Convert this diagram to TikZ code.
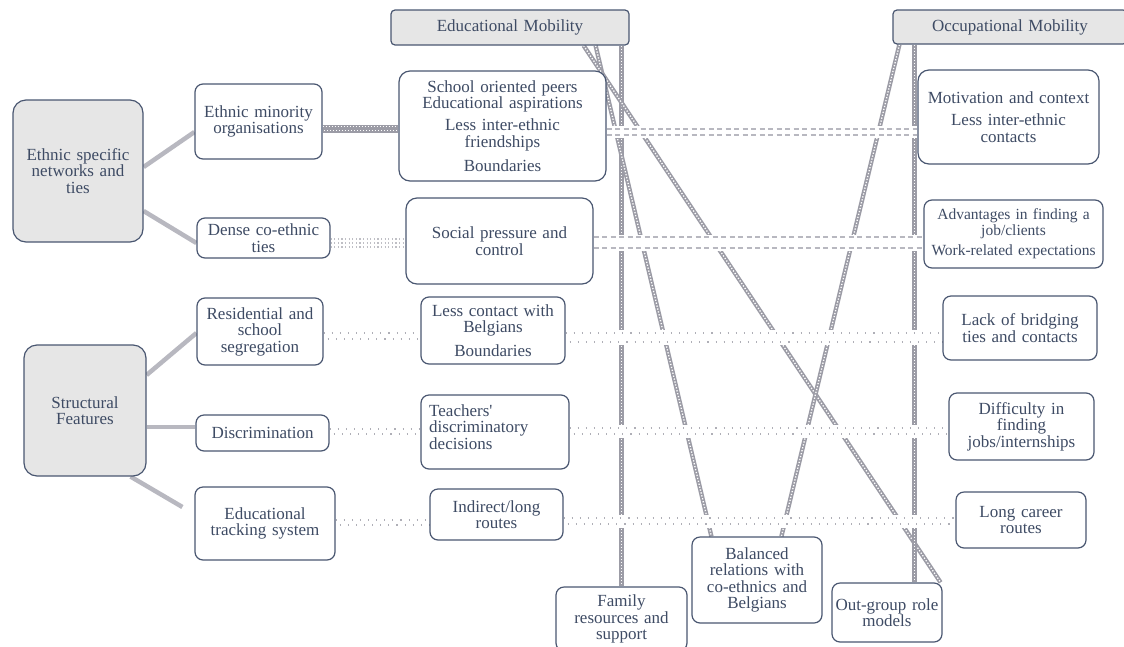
\documentclass[tikz,border=0pt]{standalone}
\usepackage{fontspec}
\setmainfont{Liberation Serif}
\definecolor{txt}{HTML}{3E4B64}
\definecolor{bord}{HTML}{4A5771}
\definecolor{hdr}{HTML}{E6E6E6}
\definecolor{lnk}{HTML}{B8B8C0}
\definecolor{chn}{HTML}{9C9CA6}
\definecolor{dotc}{HTML}{AFAFB7}
\pgfdeclarelayer{bg}
\pgfdeclarelayer{mid}
\pgfsetlayers{bg,mid,main}
\begin{document}
\begin{tikzpicture}[x=1pt,y=-1pt,
  every node/.style={font=\fontsize{17}{16.5}\selectfont, text=txt},
  box/.style={draw=bord, line width=1.2pt, fill=white, rounded corners=8pt, inner sep=0pt, align=center},
  hbox/.style={box, fill=hdr, rounded corners=4pt},
  gbox/.style={box, fill=hdr, rounded corners=13pt},
  link/.style={draw=lnk, line width=4.5pt},
  chain/.style={draw=chn, line width=4.4pt, postaction={draw=white, line width=1.3pt, dash pattern=on 1.3pt off 1.7pt}},
  halo/.style={draw=white, line width=#1},
  dashl/.style={draw=lnk, line width=1.3pt, dash pattern=on 5pt off 3.5pt},
  dotl/.style={draw=dotc, line width=1.1pt, dash pattern=on 1.1pt off 7pt},
  fdot/.style={draw=#1, line width=1.2pt, dash pattern=on 1.2pt off 2.4pt},
]
\useasboundingbox (0,0) rectangle (1124,646);

% ---------- nodes ----------
\node[hbox, text width=238pt, minimum height=35pt] (edu) at (510,27.5) {Educational Mobility};
\node[hbox, text width=234pt, minimum height=34pt] (occ) at (1010,27) {Occupational Mobility};

\node[gbox, text width=130pt, minimum height=142pt] (ethnic) at (78,171) {Ethnic specific\\networks and\\ties};
\node[box, text width=127pt, minimum height=75pt] (orgs) at (258.5,121.5) {Ethnic minority\\organisations};
\node[box, text width=133pt, minimum height=40pt] (dense) at (263.5,238) {Dense co-ethnic\\ties};

\node[box, rounded corners=11pt, text width=207pt, minimum height=110pt] (school) at (502.5,126) {School oriented peers\\Educational aspirations\\[5.5pt]Less inter-ethnic\\friendships\\[7.5pt]Boundaries};
\node[box, rounded corners=11pt, text width=187pt, minimum height=86pt] (social) at (499.5,241) {Social pressure and\\control};

\node[box, rounded corners=11pt, text width=181pt, minimum height=94pt] (motiv) at (1008.5,117) {Motivation and context\\[6pt]Less inter-ethnic\\contacts};
\node[box, text width=179pt, minimum height=68pt, font=\fontsize{15.5}{16}\selectfont] (adv) at (1013.5,234) {Advantages in finding a\\job/clients\\[4pt]Work-related expectations};

\node[gbox, text width=122pt, minimum height=131pt] (struct) at (85,410.5) {Structural\\Features};
\node[box, text width=126pt, minimum height=67pt] (resid) at (260,331.5) {Residential and\\school\\segregation};
\node[box, text width=133pt, minimum height=36pt] (discr) at (262.5,433) {Discrimination};
\node[box, text width=140pt, minimum height=73pt] (track) at (265,523.5) {Educational\\tracking system};

\node[box, text width=144pt, minimum height=67pt] (less) at (493,330.5) {Less contact with\\Belgians\\[7pt]Boundaries};
\node[box, text width=148pt, minimum height=74pt] (teach) at (495,432) {};
\node[anchor=west, align=left, inner sep=0pt] (teachT) at (429,427) {Teachers\textquotesingle\\discriminatory\\decisions};
\node[box, text width=133pt, minimum height=51pt] (indir) at (496.5,514.5) {Indirect/long\\routes};

\node[box, text width=154pt, minimum height=64pt] (lack) at (1020,328) {Lack of bridging\\ties and contacts};
\node[box, text width=145pt, minimum height=67pt] (diff) at (1021.5,426.5) {Difficulty in\\finding\\jobs/internships};
\node[box, text width=130pt, minimum height=56pt] (longc) at (1021,520) {Long career\\routes};

\node[box, text width=131pt, minimum height=64pt] (family) at (621.5,619) {Family\\resources and\\support};
\node[box, text width=130pt, minimum height=86pt] (bal) at (757,580) {Balanced\\relations with\\co-ethnics and\\Belgians};
\node[box, text width=110pt, minimum height=59pt] (outg) at (887,612.5) {Out-group role\\models};

% ---------- left links and long chains ----------
\begin{pgfonlayer}{bg}
\draw[link] ([yshift=4pt]ethnic.east) -- ([yshift=-10.5pt]orgs.west);
\draw[link] ([yshift=-40pt]ethnic.east) -- ([yshift=-5pt]dense.west);
\draw[link] ([yshift=35.5pt]struct.east) -- ([yshift=-1.5pt]resid.west);
\draw[link] ([yshift=-16.5pt]struct.east) -- ([yshift=6pt]discr.west);
\coordinate (trackend) at ([xshift=-12pt,yshift=16.5pt]track.west);
\draw[link] ([xshift=-16pt]struct.south east) -- (trackend);

\draw[chain] (edu.south -| family.north) -- (family.north);
\draw[chain] ([xshift=-34pt]edu.south east) -- ([xshift=20pt]bal.north west);
\draw[chain] ([xshift=-46pt]edu.south east) -- ([xshift=-2pt]outg.north east);
\draw[chain] ([xshift=7pt]occ.south west) -- ([xshift=90pt]bal.north west);
\draw[chain] ([xshift=22pt]occ.south west) -- ([xshift=22pt]occ.south west |- outg.north);
\end{pgfonlayer}

% ---------- horizontal connectors ----------
\begin{pgfonlayer}{mid}
% orgs -> school : checkered bar
\draw[draw=chn, line width=8pt] (orgs.east |- 0,128.5) -- (school.west |- 0,128.5);
\draw[white, line width=1pt, dash pattern=on 1pt off 2pt] (orgs.east |- 0,126.5) -- (school.west |- 0,126.5);
\draw[white, line width=1pt, dash pattern=on 1pt off 2pt, dash phase=1.5pt] (orgs.east |- 0,130.5) -- (school.west |- 0,130.5);
% dense -> social : dotted band
\draw[fdot=dotc!80] (dense.east |- 0,239) -- (social.west |- 0,239);
\draw[fdot=dotc!80] (dense.east |- 0,243) -- (social.west |- 0,243);
\draw[fdot=dotc!80] (dense.east |- 0,247) -- (social.west |- 0,247);
% school -> motiv
\draw[halo=12pt] (school.east |- 0,132) -- (motiv.west |- 0,132);
\draw[dashl] (school.east |- 0,129) -- (motiv.west |- 0,129);
\draw[dashl] (school.east |- 0,135) -- (motiv.west |- 0,135);
% social -> adv
\draw[halo=16pt] (social.east |- 0,242.5) -- (adv.west |- 0,242.5);
\draw[dashl] (social.east |- 0,237) -- (adv.west |- 0,237);
\draw[dashl] (social.east |- 0,248) -- (adv.west |- 0,248);
% resid -> less -> lack
\draw[dotl] (resid.east |- 0,333) -- (less.west |- 0,333);
\draw[dotl, dash phase=4pt] (resid.east |- 0,339) -- (less.west |- 0,339);
\draw[halo=15pt] (less.east |- 0,337) -- (lack.west |- 0,337);
\draw[dotl] (less.east |- 0,333) -- (lack.west |- 0,333);
\draw[dotl, dash phase=4pt] (less.east |- 0,342) -- (lack.west |- 0,342);
% discr -> teach -> diff
\draw[dotl] (discr.east |- 0,429) -- (teach.west |- 0,429);
\draw[dotl, dash phase=4pt] (discr.east |- 0,434) -- (teach.west |- 0,434);
\draw[halo=13pt] (teach.east |- 0,431) -- (diff.west |- 0,431);
\draw[dotl] (teach.east |- 0,428) -- (diff.west |- 0,428);
\draw[dotl, dash phase=4pt] (teach.east |- 0,434) -- (diff.west |- 0,434);
% track -> indir -> longc
\draw[dotl] (track.east |- 0,520) -- (indir.west |- 0,520);
\draw[dotl, dash phase=4pt] (track.east |- 0,525) -- (indir.west |- 0,525);
\draw[halo=13pt] (indir.east |- 0,521) -- (longc.west |- 0,521);
\draw[dotl] (indir.east |- 0,518) -- (longc.west |- 0,518);
\draw[dotl, dash phase=4pt] (indir.east |- 0,524) -- (longc.west |- 0,524);
\end{pgfonlayer}
\end{tikzpicture}
\end{document}
